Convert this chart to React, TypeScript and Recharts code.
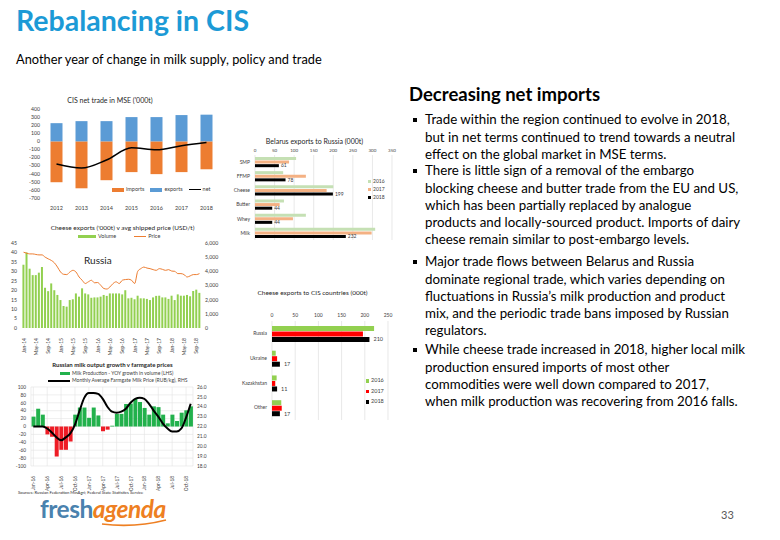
import React from 'react';
import {
  ComposedChart, BarChart, Bar, Line, XAxis, YAxis, CartesianGrid, Legend, LabelList, Cell,
} from 'recharts';

const FONT = 'Lato, "Liberation Sans", sans-serif';
const AX = '#404040';

// ---------- CIS net trade in MSE ('000t) ----------
const cisYears = ['2012', '2013', '2014', '2015', '2016', '2017', '2018'];
const cisExports = [225, 250, 250, 300, 300, 325, 330];
const cisImports = [-505, -580, -480, -380, -405, -380, -345];
const cisNet = [-280, -330, -230, -80, -105, -55, -15];
const cisTicks = [400, 300, 200, 100, 0, -100, -200, -300, -400, -500, -600, -700];

// ---------- Belarus exports to Russia (000t) ----------
const byCategories = ['SMP', 'FFMP', 'Cheese', 'Butter', 'Whey', 'Milk'];
const by2016 = [105, 72, 200, 74, 130, 307];
const by2017 = [87, 130, 183, 63, 97, 298];
const by2018 = [61, 78, 199, 44, 44, 232];
const byTicks = [0, 50, 100, 150, 200, 250, 300, 350];

// ---------- Cheese exports ('000t) v avg shipped price (USD/t) ----------
const chMonths = [
  'Jan-14', 'Feb-14', 'Mar-14', 'Apr-14', 'May-14', 'Jun-14', 'Jul-14', 'Aug-14', 'Sep-14', 'Oct-14', 'Nov-14', 'Dec-14',
  'Jan-15', 'Feb-15', 'Mar-15', 'Apr-15', 'May-15', 'Jun-15', 'Jul-15', 'Aug-15', 'Sep-15', 'Oct-15', 'Nov-15', 'Dec-15',
  'Jan-16', 'Feb-16', 'Mar-16', 'Apr-16', 'May-16', 'Jun-16', 'Jul-16', 'Aug-16', 'Sep-16', 'Oct-16', 'Nov-16', 'Dec-16',
  'Jan-17', 'Feb-17', 'Mar-17', 'Apr-17', 'May-17', 'Jun-17', 'Jul-17', 'Aug-17', 'Sep-17', 'Oct-17', 'Nov-17', 'Dec-17',
  'Jan-18', 'Feb-18', 'Mar-18', 'Apr-18', 'May-18', 'Jun-18', 'Jul-18', 'Aug-18', 'Sep-18', 'Oct-18',
];
const chVolume = [
  33.5, 40, 31.4, 28, 28, 29.3, 32.3, 21.3, 19.5, 23.6, 20, 17.5,
  14.8, 11.7, 11.3, 14.8, 15.2, 18.3, 16.6, 21, 18.3, 17.8, 16, 16.2,
  16.2, 16.6, 17.5, 17, 18.3, 18.3, 18.3, 18.3, 17.8, 20, 15.7, 16,
  15.2, 17.1, 15.7, 15.7, 15.4, 14.8, 16.2, 17, 17.1, 16.2, 16.2, 15.4,
  17.1, 14.8, 17.8, 17.1, 17.1, 17.5, 16.8, 19.6, 20.3, 18.6,
];
const chPrice = [
  5350, 5280, 5230, 5230, 5190, 5160, 5160, 5000, 4880, 4770, 4600, 4300,
  3950, 3790, 3770, 3950, 4070, 3950, 3600, 3370, 3140, 3260, 3370, 3190,
  3210, 3020, 2790, 2750, 2900, 3140, 3260, 3140, 3370, 3420, 3440, 3370,
  3140, 4000, 4190, 4300, 4230, 4190, 4120, 4070, 4190, 4140, 4070, 4120,
  4020, 4000, 3840, 3840, 3770, 3600, 3680, 3770, 3770, 3840,
];
const chLeftTicks = [0, 5, 10, 15, 20, 25, 30, 35, 40, 45];
const chRightTicks = [0, 1000, 2000, 3000, 4000, 5000, 6000];

// ---------- Russian milk output growth v farmgate prices ----------
const ruMonths = [
  'Jan-16', 'Feb-16', 'Mar-16', 'Apr-16', 'May-16', 'Jun-16', 'Jul-16', 'Aug-16', 'Sep-16', 'Oct-16', 'Nov-16', 'Dec-16',
  'Jan-17', 'Feb-17', 'Mar-17', 'Apr-17', 'May-17', 'Jun-17', 'Jul-17', 'Aug-17', 'Sep-17', 'Oct-17', 'Nov-17', 'Dec-17',
  'Jan-18', 'Feb-18', 'Mar-18', 'Apr-18', 'May-18', 'Jun-18', 'Jul-18', 'Aug-18', 'Sep-18', 'Oct-18', 'Nov-18',
];
const ruGrowth = [
  25, 45, 30, -20, -26, -76, -59, -59, -38, 30, 48, 48,
  22, 48, 28, -12, -8, 2, 32, 32, 57, 58, 70, 62,
  47, 30, 51, 49, 30, 8, 30, 14, 35, 41, 51,
];
const ruPrice = [
  22.0, 22.0, 22.0, 21.8, 21.4, 20.9, 20.6, 20.9, 21.3, 22.2, 23.6, 24.9,
  25.4, 25.4, 25.3, 24.8, 24.0, 23.5, 23.4, 23.5, 23.8, 24.4, 24.8, 24.9,
  24.8, 24.3, 23.6, 23.0, 22.3, 21.8, 21.5, 21.5, 21.8, 22.9, 24.3,
];
const ruLeftTicks = [-100, -80, -60, -40, -20, 0, 20, 40, 60, 80, 100];
const ruRightTicks = [18, 19, 20, 21, 22, 23, 24, 25, 26];

// ---------- Cheese exports to CIS countries (000t) ----------
const cisCountries = ['Russia', 'Ukraine', 'Kazakhstan', 'Other'];
const cc2016 = [220, 8, 10, 20];
const cc2017 = [196, 11, 7, 21];
const cc2018 = [210, 17, 11, 17];
const ccTicks = [0, 50, 100, 150, 200, 250];

// ---------- Text ----------
const bullets = [
  ['Trade within the region continued to evolve in 2018,', 'but in net terms continued to trend towards a neutral', 'effect on the global market in MSE terms.'],
  ['There is little sign of a removal of the embargo', 'blocking cheese and butter trade from the EU and US,', 'which has been partially replaced by analogue', 'products and locally-sourced product. Imports of dairy', 'cheese remain similar to post-embargo levels.'],
  ['Major trade flows between Belarus and Russia', 'dominate regional trade, which varies depending on', 'fluctuations in Russia\u2019s milk production and product', 'mix, and the periodic trade bans imposed by Russian', 'regulators.'],
  ['While cheese trade increased in 2018, higher local milk', 'production ensured imports of most other', 'commodities were well down compared to 2017,', 'when milk production was recovering from 2016 falls.'],
];
const bulletTops = [120, 171, 262, 350];

const cisData = cisYears.map((y, i) => ({ year: y, imports: cisImports[i], exports: cisExports[i], net: cisNet[i] }));
const byData = byCategories.map((c, i) => ({ cat: c, y2016: by2016[i], y2017: by2017[i], y2018: by2018[i] }));
const chData = chMonths.map((m, i) => ({ m, volume: chVolume[i], price: chPrice[i] }));
const ruData = ruMonths.map((m, i) => ({ m, growth: ruGrowth[i], price: ruPrice[i] }));
const ccData = cisCountries.map((c, i) => ({ cat: c, y2016: cc2016[i], y2017: cc2017[i], y2018: cc2018[i] }));

const tick = (fs: number) => ({ fontSize: fs, fill: AX, fontFamily: FONT });

const makeLegend = (o: { fs: number; vertical?: boolean; gap: number; sw: number; sh: number; box: number; lineW?: number; order: string[] }) =>
  (props: any) => {
    const raw = props.payload || [];
    const items = o.order.map((n) => raw.find((it: any) => it.value === n)).filter(Boolean);
    return (
      <div style={{ display: 'flex', flexDirection: o.vertical ? 'column' : 'row', gap: o.gap, fontFamily: FONT, fontSize: o.fs, color: AX, lineHeight: 1 }}>
        {items.map((it: any) => (
          <div key={it.value} style={{ display: 'flex', alignItems: 'center', whiteSpace: 'nowrap' }}>
            <span style={{ display: 'inline-flex', width: o.box, justifyContent: 'flex-end', marginRight: 2 }}>
              {it.type === 'plainline' || it.type === 'line' ? (
                <span style={{ display: 'inline-block', width: o.lineW ?? o.box, height: 0, borderTop: `${it.payload?.strokeWidth ?? 1.5}px solid ${it.color}` }} />
              ) : (
                <span style={{ display: 'inline-block', width: o.sw, height: o.sh, background: it.color }} />
              )}
            </span>
            {it.value}
          </div>
        ))}
      </div>
    );
  };

const RotTick = (p: any) => {
  const { x, y, payload, fs } = p;
  return (
    <g transform={`translate(${x},${y + 2})`}>
      <text transform="rotate(-90)" textAnchor="end" dominantBaseline="central" fontSize={fs} fill={AX} fontFamily={FONT}>
        {payload.value}
      </text>
    </g>
  );
};

const abs = (left: number, top: number, extra: any = {}) => ({ position: 'absolute' as const, left, top, ...extra });

const ChartTitle = ({ x, y, w, text, fs, bold }: any) => (
  <div style={abs(x, y, { width: w, textAlign: 'center', fontFamily: FONT, fontSize: fs, color: '#262626', fontWeight: bold ? 700 : 400, whiteSpace: 'nowrap', lineHeight: 1 })}>{text}</div>
);

export default function App() {
  return (
    <div style={{ position: 'absolute', left: 0, top: 0, width: 780, height: 540, background: '#fff', overflow: 'hidden', fontFamily: FONT }}>
      {/* Header */}
      <div style={abs(16, 3, { fontSize: 28.5, fontWeight: 700, color: '#1C9AD6', whiteSpace: 'nowrap' })}>Rebalancing in CIS</div>
      <div style={abs(16, 51, { fontSize: 12.8, color: '#000', whiteSpace: 'nowrap' })}>Another year of change in milk supply, policy and trade</div>

      {/* Chart 1 */}
      <ChartTitle x={10} y={97} w={200} text="CIS net trade in MSE ('000t)" fs={7} />
      <div style={abs(0, 95)}>
        <ComposedChart width={222} height={120} data={cisData} stackOffset="sign" margin={{ top: 14, right: 3, bottom: 0, left: 0 }} barCategoryGap="26%">
          <XAxis dataKey="year" axisLine={false} tickLine={false} tick={tick(5.5)} height={17} />
          <YAxis domain={[-700, 400]} ticks={cisTicks} interval={0} axisLine={false} tickLine={false} tick={tick(5.2)} width={44} tickSize={2} tickMargin={2} />
          <Bar dataKey="imports" name="imports" stackId="a" fill="#ED7D31" isAnimationActive={false} />
          <Bar dataKey="exports" name="exports" stackId="a" fill="#5B9BD5" isAnimationActive={false} />
          <Line dataKey="net" name="net" type="monotone" stroke="#000" strokeWidth={1.5} dot={false} legendType="plainline" isAnimationActive={false} />
          <Legend layout="horizontal" verticalAlign="middle" align="center" wrapperStyle={{ left: 112, top: 92, width: 110 }}
            content={makeLegend({ fs: 5.5, gap: 6, sw: 12, sh: 4, box: 12, order: ['imports', 'exports', 'net'] })} />
        </ComposedChart>
      </div>

      {/* Chart 2 */}
      <ChartTitle x={222} y={138} w={185} text="Belarus exports to Russia (000t)" fs={7} />
      <div style={abs(222, 143)}>
        <BarChart layout="vertical" width={185} height={101} data={byData} margin={{ top: 0, right: 15, bottom: 4, left: 0 }} barCategoryGap="14%" barGap={0.6}>
          <CartesianGrid horizontal={false} stroke="#D9D9D9" strokeWidth={0.6} />
          <XAxis type="number" orientation="top" domain={[0, 350]} ticks={byTicks} interval={0} axisLine={false} tickLine={false} tick={tick(4.5)} height={12} tickSize={0} tickMargin={3} />
          <YAxis type="category" dataKey="cat" interval={0} axisLine={false} tickLine={false} tick={tick(5)} width={33} tickSize={2} tickMargin={3} />
          <Bar dataKey="y2016" name="2016" fill="#C5E0B4" isAnimationActive={false} />
          <Bar dataKey="y2017" name="2017" fill="#F4B183" isAnimationActive={false} />
          <Bar dataKey="y2018" name="2018" fill="#000" isAnimationActive={false}>
            <LabelList dataKey="y2018" position="right" offset={2} style={{ fontSize: 5, fill: AX, fontFamily: FONT }} />
          </Bar>
          <Legend layout="vertical" verticalAlign="middle" align="center" wrapperStyle={{ left: 146, top: 36, width: 40 }}
            content={makeLegend({ fs: 5, vertical: true, gap: 3, sw: 3, sh: 3, box: 3, order: ['2016', '2017', '2018'] })} />
        </BarChart>
      </div>

      {/* Chart 3 */}
      <ChartTitle x={20} y={225} w={205} text="Cheese exports ('000t) v avg shipped price (USD/t)" fs={6.5} />
      <div style={abs(0, 230)}>
        <ComposedChart width={228} height={125} data={chData} margin={{ top: 13, right: 0, bottom: 0, left: 0 }} barCategoryGap="14%">
          <XAxis dataKey="m" interval={3} axisLine={false} tickLine={false} height={27} tick={(p: any) => <RotTick {...p} fs={5} />} />
          <YAxis yAxisId="l" domain={[0, 45]} ticks={chLeftTicks} interval={0} axisLine={false} tickLine={false} tick={tick(5.2)} width={22} tickSize={2} tickMargin={3} />
          <YAxis yAxisId="r" orientation="right" domain={[0, 6000]} ticks={chRightTicks} interval={0} axisLine={false} tickLine={false} tick={tick(5.2)} width={27}
            tickSize={2} tickMargin={2} tickFormatter={(v: number) => v.toLocaleString('en-US')} />
          <Bar yAxisId="l" dataKey="volume" name="Volume" fill="#92D050" isAnimationActive={false} />
          <Line yAxisId="r" dataKey="price" name="Price" type="monotone" stroke="#ED7D31" strokeWidth={1} dot={false} legendType="plainline" isAnimationActive={false} />
          <Legend layout="horizontal" verticalAlign="middle" align="center" wrapperStyle={{ left: 78, top: 4, width: 120 }}
            content={makeLegend({ fs: 5.5, gap: 12, sw: 18, sh: 3, box: 18, lineW: 12, order: ['Volume', 'Price'] })} />
        </ComposedChart>
      </div>
      <div style={abs(84, 254, { fontSize: 10, color: '#262626', fontFamily: FONT })}>Russia</div>

      {/* Chart 4 */}
      <ChartTitle x={10} y={362} w={205} text="Russian milk output growth v farmgate prices" fs={6} bold />
      <div style={abs(0, 370)}>
        <ComposedChart width={222} height={124} data={ruData} margin={{ top: 17, right: 0, bottom: 0, left: 0 }} barCategoryGap="12%">
          <CartesianGrid stroke="#E3E3E3" strokeWidth={0.6} yAxisId="l" />
          <XAxis dataKey="m" interval={2} axisLine={false} tickLine={false} height={28} tick={(p: any) => <RotTick {...p} fs={4.8} />} />
          <YAxis yAxisId="l" domain={[-100, 100]} ticks={ruLeftTicks} interval={0} axisLine={false} tickLine={false} tick={tick(4.8)} width={31} tickSize={2} tickMargin={3} />
          <YAxis yAxisId="r" orientation="right" domain={[18, 26]} ticks={ruRightTicks} interval={0} axisLine={false} tickLine={false} tick={tick(4.8)} width={29}
            tickSize={2} tickMargin={2} tickFormatter={(v: number) => v.toFixed(1)} />
          <Bar yAxisId="l" dataKey="growth" name="Milk Production - YOY growth in volume (LHS)" fill="#22B14C" isAnimationActive={false}>
            {ruData.map((d, i) => <Cell key={i} fill={d.growth < 0 ? '#EE1C25' : '#22B14C'} />)}
          </Bar>
          <Line yAxisId="r" dataKey="price" name="Monthly Average Farmgate Milk Price (RUB/kg), RHS" type="monotone" stroke="#000" strokeWidth={2} dot={false} legendType="plainline" isAnimationActive={false} />
          <Legend layout="vertical" verticalAlign="middle" align="center" wrapperStyle={{ left: 48, top: 1, width: 170 }}
            content={makeLegend({ fs: 5, vertical: true, gap: 2, sw: 10, sh: 3, box: 22, lineW: 22, order: ['Milk Production - YOY growth in volume (LHS)', 'Monthly Average Farmgate Milk Price (RUB/kg), RHS'] })} />
        </ComposedChart>
      </div>
      <div style={abs(18, 490, { fontSize: 4.2, color: '#262626', whiteSpace: 'nowrap' })}>Sources: Russian Federation MinAgri; Federal State Statistics Service</div>

      {/* Chart 5 */}
      <ChartTitle x={235} y={290} w={155} text="Cheese exports to CIS countries (000t)" fs={6.5} />
      <div style={abs(235, 305)}>
        <BarChart layout="vertical" width={180} height={118} data={ccData} margin={{ top: 0, right: 27, bottom: 3, left: 0 }} barCategoryGap="20%" barGap={0.5}>
          <CartesianGrid horizontal={false} stroke="#D9D9D9" strokeWidth={0.6} />
          <XAxis type="number" orientation="top" domain={[0, 250]} ticks={ccTicks} interval={0} axisLine={false} tickLine={false} tick={tick(5)} height={16} tickSize={0} tickMargin={4} />
          <YAxis type="category" dataKey="cat" interval={0} axisLine={false} tickLine={false} tick={tick(5)} width={37} tickSize={2} tickMargin={3} />
          <Bar dataKey="y2016" name="2016" fill="#92D050" isAnimationActive={false} />
          <Bar dataKey="y2017" name="2017" fill="#FF0000" isAnimationActive={false} />
          <Bar dataKey="y2018" name="2018" fill="#000" isAnimationActive={false}>
            <LabelList dataKey="y2018" position="right" offset={4} style={{ fontSize: 5.5, fill: AX, fontFamily: FONT }} />
          </Bar>
          <Legend layout="vertical" verticalAlign="middle" align="center" wrapperStyle={{ left: 130, top: 73, width: 45 }}
            content={makeLegend({ fs: 5.5, vertical: true, gap: 5, sw: 3.5, sh: 3.5, box: 4, order: ['2016', '2017', '2018'] })} />
        </BarChart>
      </div>

      {/* Text panel */}
      <div style={abs(409, 83, { fontSize: 18.5, fontWeight: 700, color: '#000', whiteSpace: 'nowrap' })}>Decreasing net imports</div>
      {bullets.map((lines, bi) => (
        <div key={bi} style={abs(413, bulletTops[bi] - 8.6, { fontSize: 13.3, lineHeight: '17.2px', color: '#000' })}>
          <span style={abs(0, 7, { width: 4, height: 4, background: '#000' })} />
          <div style={{ marginLeft: 12, whiteSpace: 'nowrap' }}>
            {lines.map((l, li) => <div key={li}>{l}</div>)}
          </div>
        </div>
      ))}

      {/* Logo */}
      <div style={abs(40, 497, { fontSize: 24.5, fontWeight: 700, whiteSpace: 'nowrap', letterSpacing: -0.5, lineHeight: 1 })}>
        <span style={{ color: '#4A82AE' }}>fresh</span>
        <span style={{ color: '#EE7F22', fontStyle: 'italic' }}>agenda</span>
      </div>
      <svg style={abs(100, 518)} width={70} height={10}>
        <path d="M2 6 Q 35 10 66 2" stroke="#EE7F22" strokeWidth={1.6} fill="none" />
      </svg>
      <div style={abs(721, 508, { fontSize: 11, color: '#595959' })}>33</div>
    </div>
  );
}
